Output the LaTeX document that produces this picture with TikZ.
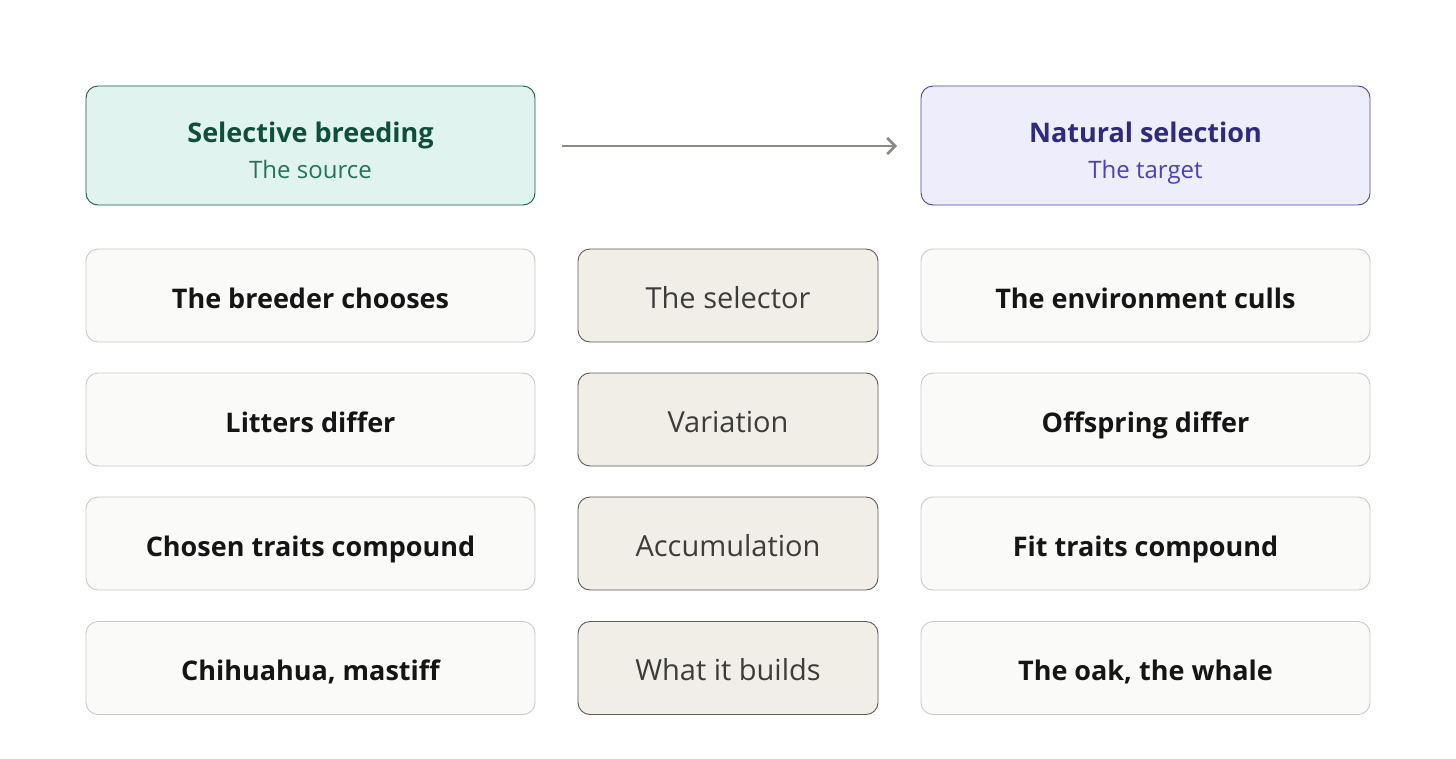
\documentclass[tikz,border=0pt]{standalone}
\usepackage{fontspec}
\setmainfont{Open Sans}
\usetikzlibrary{arrows.meta}
\definecolor{srcfill}{HTML}{E1F3EE}
\definecolor{srcdraw}{HTML}{1A5C48}
\definecolor{srctitle}{HTML}{0E4E3B}
\definecolor{srcsub}{HTML}{22735A}
\definecolor{tgtfill}{HTML}{EEEDFC}
\definecolor{tgtdraw}{HTML}{4B41AE}
\definecolor{tgttitle}{HTML}{2F2A7C}
\definecolor{tgtsub}{HTML}{4A40BA}
\definecolor{sidefill}{HTML}{FAFAF8}
\definecolor{sidedraw}{HTML}{C9C9C6}
\definecolor{midfill}{HTML}{F1EEE7}
\definecolor{middraw}{HTML}{5C5B56}
\definecolor{midtext}{HTML}{3C3C39}
\definecolor{arrowc}{HTML}{8A8A85}
\definecolor{bodytext}{HTML}{151515}
\tikzset{
  box/.style={rounded corners=12pt, line width=0.9pt, inner sep=0pt, text height=25pt, text depth=0pt},
  sidebox/.style={box, fill=sidefill, draw=sidedraw, minimum width=449pt, minimum height=93pt,
     text=bodytext, font=\fontsize{27}{32}\selectfont\bfseries},
  midbox/.style={box, fill=midfill, draw=middraw, minimum width=300pt, minimum height=93pt,
     text=midtext, font=\fontsize{29}{34}\selectfont},
  srcbox/.style={rounded corners=12pt, line width=0.9pt, fill=srcfill, draw=srcdraw, minimum width=449pt, minimum height=119pt},
  tgtbox/.style={rounded corners=12pt, line width=0.9pt, fill=tgtfill, draw=tgtdraw, minimum width=449pt, minimum height=119pt},
  title/.style={anchor=base, inner sep=0pt, font=\fontsize{27}{32}\selectfont\bfseries},
  subtitle/.style={anchor=base, inner sep=0pt, font=\fontsize{24}{29}\selectfont},
  conn/.style={draw=arrowc, line width=2.6pt, -{Straight Barb[length=8pt,width=16pt,line width=2.6pt]}}
}
\begin{document}
\begin{tikzpicture}[x=1pt,y=-1pt]
\useasboundingbox (0,0) rectangle (1456,758);
\node[srcbox] (src) at (310.5,145.5) {};
\node[title, text=srctitle] (srct) at (310.5,142) {Selective breeding};
\node[subtitle, text=srcsub] (srcs) at (310.5,178) {The source};
\node[tgtbox] (tgt) at (1145.5,145.5) {};
\node[title, text=tgttitle] (tgtt) at (1145.5,142) {Natural selection};
\node[subtitle, text=tgtsub] (tgts) at (1145.5,178) {The target};
\coordinate (a1) at (562,146);
\coordinate (a2) at (897,146);
\draw[conn] (a1) -- (a2);

\node[sidebox] (l1) at (310.5,295.5) {The breeder chooses};
\node[midbox]  (m1) at (728,295.5) {The selector};
\node[sidebox] (r1) at (1145.5,295.5) {The environment culls};

\node[sidebox] (l2) at (310.5,419.5) {Litters differ};
\node[midbox]  (m2) at (728,419.5) {Variation};
\node[sidebox] (r2) at (1145.5,419.5) {Offspring differ};

\node[sidebox] (l3) at (310.5,543.5) {Chosen traits compound};
\node[midbox]  (m3) at (728,543.5) {Accumulation};
\node[sidebox] (r3) at (1145.5,543.5) {Fit traits compound};

\node[sidebox] (l4) at (310.5,668) {Chihuahua, mastiff};
\node[midbox]  (m4) at (728,668) {What it builds};
\node[sidebox] (r4) at (1145.5,668) {The oak, the whale};
\end{tikzpicture}
\end{document}
